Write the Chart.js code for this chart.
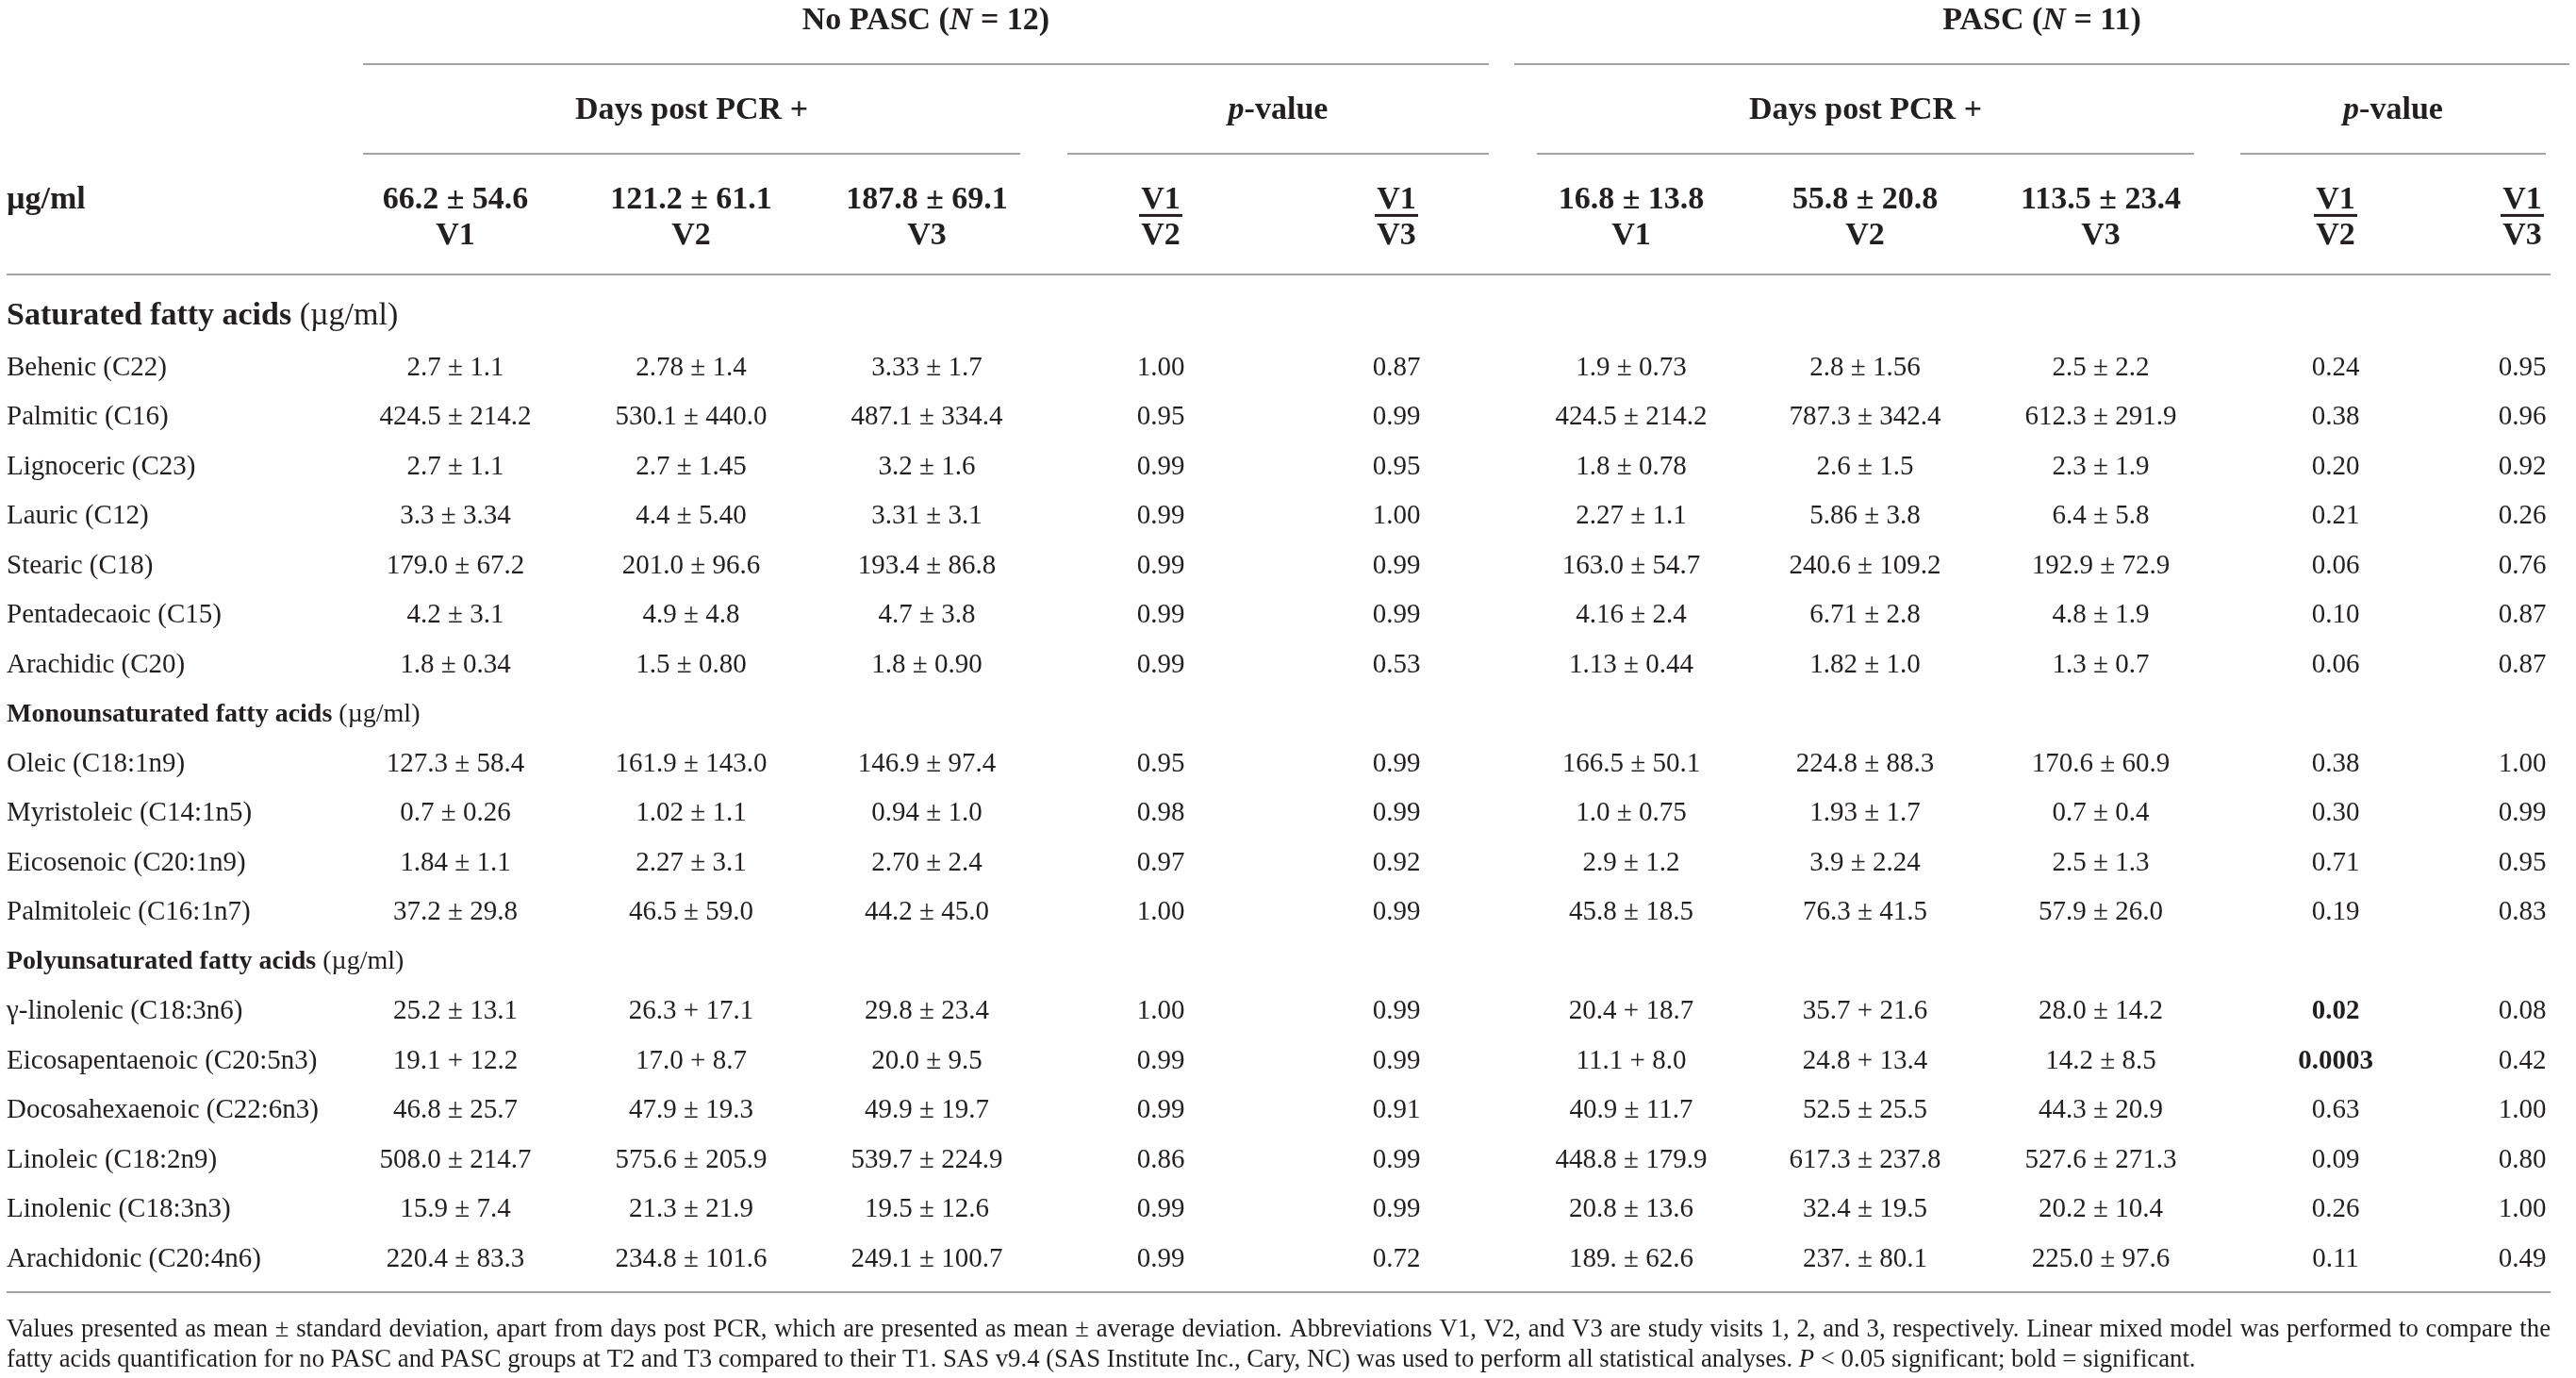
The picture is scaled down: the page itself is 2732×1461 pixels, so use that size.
<!DOCTYPE html>
<html><head><meta charset="utf-8">
<script src="https://cdn.jsdelivr.net/npm/chart.js@4.4.0/dist/chart.umd.min.js"></script>
<style>html,body{margin:0;padding:0;background:#fff;}canvas{display:block;}</style>
</head><body>
<canvas id="c" width="2732" height="1461"></canvas>
<script>
// ---------------- DATA ----------------
const acids = ['Behenic (C22)','Palmitic (C16)','Lignoceric (C23)','Lauric (C12)','Stearic (C18)','Pentadecaoic (C15)','Arachidic (C20)',
  'Oleic (C18:1n9)','Myristoleic (C14:1n5)','Eicosenoic (C20:1n9)','Palmitoleic (C16:1n7)',
  'γ-linolenic (C18:3n6)','Eicosapentaenoic (C20:5n3)','Docosahexaenoic (C22:6n3)','Linoleic (C18:2n9)','Linolenic (C18:3n3)','Arachidonic (C20:4n6)'];
const acidClass = ['sat','sat','sat','sat','sat','sat','sat','mono','mono','mono','mono','poly','poly','poly','poly','poly','poly'];
const classNames = {sat:'Saturated fatty acids', mono:'Monounsaturated fatty acids', poly:'Polyunsaturated fatty acids'};
const unitLabel = 'µg/ml';

const groups = ['No PASC','PASC'];
const groupN = [12, 11];
const visits = ['V1','V2','V3'];
const noPascDays = ['66.2 ± 54.6','121.2 ± 61.1','187.8 ± 69.1'];
const pascDays = ['16.8 ± 13.8','55.8 ± 20.8','113.5 ± 23.4'];
const pComparisons = [['V1','V2'],['V1','V3']];

const noPascV1 = ['2.7 ± 1.1','424.5 ± 214.2','2.7 ± 1.1','3.3 ± 3.34','179.0 ± 67.2','4.2 ± 3.1','1.8 ± 0.34','127.3 ± 58.4','0.7 ± 0.26','1.84 ± 1.1','37.2 ± 29.8','25.2 ± 13.1','19.1 + 12.2','46.8 ± 25.7','508.0 ± 214.7','15.9 ± 7.4','220.4 ± 83.3'];
const noPascV2 = ['2.78 ± 1.4','530.1 ± 440.0','2.7 ± 1.45','4.4 ± 5.40','201.0 ± 96.6','4.9 ± 4.8','1.5 ± 0.80','161.9 ± 143.0','1.02 ± 1.1','2.27 ± 3.1','46.5 ± 59.0','26.3 + 17.1','17.0 + 8.7','47.9 ± 19.3','575.6 ± 205.9','21.3 ± 21.9','234.8 ± 101.6'];
const noPascV3 = ['3.33 ± 1.7','487.1 ± 334.4','3.2 ± 1.6','3.31 ± 3.1','193.4 ± 86.8','4.7 ± 3.8','1.8 ± 0.90','146.9 ± 97.4','0.94 ± 1.0','2.70 ± 2.4','44.2 ± 45.0','29.8 ± 23.4','20.0 ± 9.5','49.9 ± 19.7','539.7 ± 224.9','19.5 ± 12.6','249.1 ± 100.7'];
const noPascP12 = ['1.00','0.95','0.99','0.99','0.99','0.99','0.99','0.95','0.98','0.97','1.00','1.00','0.99','0.99','0.86','0.99','0.99'];
const noPascP13 = ['0.87','0.99','0.95','1.00','0.99','0.99','0.53','0.99','0.99','0.92','0.99','0.99','0.99','0.91','0.99','0.99','0.72'];
const pascV1 = ['1.9 ± 0.73','424.5 ± 214.2','1.8 ± 0.78','2.27 ± 1.1','163.0 ± 54.7','4.16 ± 2.4','1.13 ± 0.44','166.5 ± 50.1','1.0 ± 0.75','2.9 ± 1.2','45.8 ± 18.5','20.4 + 18.7','11.1 + 8.0','40.9 ± 11.7','448.8 ± 179.9','20.8 ± 13.6','189. ± 62.6'];
const pascV2 = ['2.8 ± 1.56','787.3 ± 342.4','2.6 ± 1.5','5.86 ± 3.8','240.6 ± 109.2','6.71 ± 2.8','1.82 ± 1.0','224.8 ± 88.3','1.93 ± 1.7','3.9 ± 2.24','76.3 ± 41.5','35.7 + 21.6','24.8 + 13.4','52.5 ± 25.5','617.3 ± 237.8','32.4 ± 19.5','237. ± 80.1'];
const pascV3 = ['2.5 ± 2.2','612.3 ± 291.9','2.3 ± 1.9','6.4 ± 5.8','192.9 ± 72.9','4.8 ± 1.9','1.3 ± 0.7','170.6 ± 60.9','0.7 ± 0.4','2.5 ± 1.3','57.9 ± 26.0','28.0 ± 14.2','14.2 ± 8.5','44.3 ± 20.9','527.6 ± 271.3','20.2 ± 10.4','225.0 ± 97.6'];
const pascP12 = ['0.24','0.38','0.20','0.21','0.06','0.10','0.06','0.38','0.30','0.71','0.19','0.02','0.0003','0.63','0.09','0.26','0.11'];
const pascP13 = ['0.95','0.96','0.92','0.26','0.76','0.87','0.87','1.00','0.99','0.95','0.83','0.08','0.42','1.00','0.80','1.00','0.49'];
const significance = 0.05;

const footLine1 = 'Values presented as mean ± standard deviation, apart from days post PCR, which are presented as mean ± average deviation. Abbreviations V1, V2, and V3 are study visits 1, 2, and 3, respectively. Linear mixed model was performed to compare the';
const footLine2a = 'fatty acids quantification for no PASC and PASC groups at T2 and T3 compared to their T1. SAS v9.4 (SAS Institute Inc., Cary, NC) was used to perform all statistical analyses. ';
const footLine2b = 'P';
const footLine2c = ' < 0.05 significant; bold = significant.';

// ---------------- LAYOUT (style only) ----------------
const FF = '"Liberation Serif","Times New Roman",serif';
const INK = '#231f20', RULE = '#a3a3a3';
const font = (s, b, i) => `${i ? 'italic ' : ''}${b ? 'bold ' : ''}${s}px ${FF}`;
const DATA_SIZE = 29, HEAD_SIZE = 34, SEC_BIG = 34, SEC_SMALL = 28;
const labelX = 7;
const colX = [483, 733, 983, 1231, 1481, 1730, 1978, 2228, 2477, 2675];
const columns = [noPascV1, noPascV2, noPascV3, noPascP12, noPascP13, pascV1, pascV2, pascV3, pascP12, pascP13];
const isP = [false,false,false,true,true,false,false,false,true,true];
// row index positions (y scale units)
let r = 0, prev = null;
const acidRow = [], sectionRows = [];
acids.forEach((a, i) => {
  if (acidClass[i] !== prev) { sectionRows.push({row: r + (r === 0 ? -0.05 : 0), cls: acidClass[i]}); r++; prev = acidClass[i]; }
  acidRow.push(r); r++;
});
const ROW_TITLE = -6.01, ROW_RULE1 = -5.095, ROW_SUB = -4.2, ROW_RULE2 = -3.286,
      ROW_H1 = -2.39, ROW_BAR = -2.04, ROW_H2 = -1.667, ROW_RULE3 = -0.848,
      ROW_RULE4 = 19.70, ROW_F1 = 20.43, ROW_F2 = 21.05;
const groupSpan = [[385, 1579], [1606, 2725]];
const daysSpan = [[385, 1082], [1630, 2327]];
const pSpan = [[1132, 1579], [2376, 2700]];

function drawRich(ctx, segs, x, y, align) {
  let w = 0;
  segs.forEach(s => { ctx.font = s.f; s.w = ctx.measureText(s.t).width; w += s.w; });
  let cx = align === 'center' ? x - w / 2 : (align === 'right' ? x - w : x);
  segs.forEach(s => { ctx.font = s.f; ctx.fillText(s.t, cx, y); cx += s.w; });
}
function base(y, size) { return y + size * 0.33; }

const tablePlugin = {
  id: 'tableText',
  afterDatasetsDraw(chart) {
    const ctx = chart.ctx, xs = chart.scales.x, ys = chart.scales.y;
    const X = v => xs.getPixelForValue(v), Y = v => ys.getPixelForValue(v);
    ctx.save();
    ctx.fillStyle = INK; ctx.textAlign = 'left'; ctx.textBaseline = 'alphabetic';
    // rules
    ctx.strokeStyle = RULE; ctx.lineWidth = 2;
    const hline = (y, x0, x1) => { ctx.beginPath(); ctx.moveTo(X(x0), Math.round(Y(y))); ctx.lineTo(X(x1), Math.round(Y(y))); ctx.stroke(); };
    groupSpan.forEach(s => hline(ROW_RULE1, s[0], s[1]));
    daysSpan.forEach(s => hline(ROW_RULE2, s[0], s[1]));
    pSpan.forEach(s => hline(ROW_RULE2, s[0], s[1]));
    hline(ROW_RULE3, 7, 2705);
    hline(ROW_RULE4, 7, 2705);
    // group titles
    groups.forEach((g, k) => {
      const cx = (groupSpan[k][0] + groupSpan[k][1]) / 2;
      drawRich(ctx, [{t: g + ' (', f: font(HEAD_SIZE, 1)}, {t: 'N', f: font(HEAD_SIZE, 1, 1)}, {t: ' = ' + groupN[k] + ')', f: font(HEAD_SIZE, 1)}],
        X(cx), base(Y(ROW_TITLE), HEAD_SIZE), 'center');
      const dx = (daysSpan[k][0] + daysSpan[k][1]) / 2;
      drawRich(ctx, [{t: 'Days post PCR +', f: font(HEAD_SIZE, 1)}], X(dx), base(Y(ROW_SUB), HEAD_SIZE), 'center');
      const px = (pSpan[k][0] + pSpan[k][1]) / 2;
      drawRich(ctx, [{t: 'p', f: font(HEAD_SIZE, 1, 1)}, {t: '-value', f: font(HEAD_SIZE, 1)}], X(px), base(Y(ROW_SUB), HEAD_SIZE), 'center');
      const days = k === 0 ? noPascDays : pascDays;
      days.forEach((d, j) => {
        const c = colX[k * 5 + j];
        drawRich(ctx, [{t: d, f: font(HEAD_SIZE, 1)}], X(c), base(Y(ROW_H1), HEAD_SIZE), 'center');
        drawRich(ctx, [{t: visits[j], f: font(HEAD_SIZE, 1)}], X(c), base(Y(ROW_H2), HEAD_SIZE), 'center');
      });
      pComparisons.forEach((pc, j) => {
        const c = colX[k * 5 + 3 + j];
        drawRich(ctx, [{t: pc[0], f: font(HEAD_SIZE, 1)}], X(c), base(Y(ROW_H1), HEAD_SIZE), 'center');
        drawRich(ctx, [{t: pc[1], f: font(HEAD_SIZE, 1)}], X(c), base(Y(ROW_H2), HEAD_SIZE), 'center');
        ctx.fillRect(X(c) - 23, Y(ROW_BAR) - 1.5, 46, 3);
      });
    });
    drawRich(ctx, [{t: unitLabel, f: font(HEAD_SIZE, 1)}], X(labelX), base(Y(ROW_H1), HEAD_SIZE), 'left');
    // section headers
    sectionRows.forEach(s => {
      const sz = s.cls === 'sat' ? SEC_BIG : SEC_SMALL;
      drawRich(ctx, [{t: classNames[s.cls], f: font(sz, 1)}, {t: ' (' + unitLabel + ')', f: font(sz)}], X(labelX), base(Y(s.row), sz), 'left');
    });
    // cells drawn at dataset element positions
    chart.data.datasets.forEach((ds, di) => {
      const meta = chart.getDatasetMeta(di);
      meta.data.forEach((el, i) => {
        const txt = ds.texts[i];
        const bold = ds.isP && parseFloat(txt) < significance;
        drawRich(ctx, [{t: txt, f: font(DATA_SIZE, bold)}], el.x, base(el.y, DATA_SIZE), ds.align);
      });
    });
    // footnote
    ctx.font = font(100);
    const w2 = ctx.measureText(footLine2a + footLine2b + footLine2c).width;
    const fs = 100 * (2321 / w2);
    const fy1 = base(Y(ROW_F1), fs), fy2 = base(Y(ROW_F2), fs);
    ctx.font = font(fs);
    const words = footLine1.split(' ');
    const ww = words.map(w => ctx.measureText(w).width);
    const total = ww.reduce((a, b) => a + b, 0);
    const gap = (X(2705) - X(7) - total) / (words.length - 1);
    let cx = X(7);
    words.forEach((w, i) => { ctx.fillText(w, cx, fy1); cx += ww[i] + gap; });
    drawRich(ctx, [{t: footLine2a, f: font(fs)}, {t: footLine2b, f: font(fs, 0, 1)}, {t: footLine2c, f: font(fs)}], X(7), fy2, 'left');
    ctx.restore();
  }
};

const datasets = [{
  label: 'Fatty acid', texts: acids, isP: false, align: 'left',
  data: acids.map((a, i) => ({x: labelX, y: acidRow[i]})), pointRadius: 0
}].concat(columns.map((col, c) => ({
  label: 'col' + c, texts: col, isP: isP[c], align: 'center',
  data: col.map((v, i) => ({x: colX[c], y: acidRow[i]})), pointRadius: 0
})));

new Chart(document.getElementById('c'), {
  type: 'scatter',
  data: {datasets},
  options: {
    responsive: false, animation: false, devicePixelRatio: 1,
    layout: {padding: 0},
    events: [],
    plugins: {legend: {display: false}, tooltip: {enabled: false}},
    scales: {
      x: {type: 'linear', display: false, min: 0, max: 2732},
      y: {type: 'linear', display: false, reverse: true, min: -335.5 / 52.5, max: (1461 - 335.5) / 52.5}
    }
  },
  plugins: [{id: 'bg', beforeDraw(ch) { const c = ch.ctx; c.save(); c.fillStyle = '#fff'; c.fillRect(0, 0, ch.width, ch.height); c.restore(); }}, tablePlugin]
});
</script>
</body></html>
